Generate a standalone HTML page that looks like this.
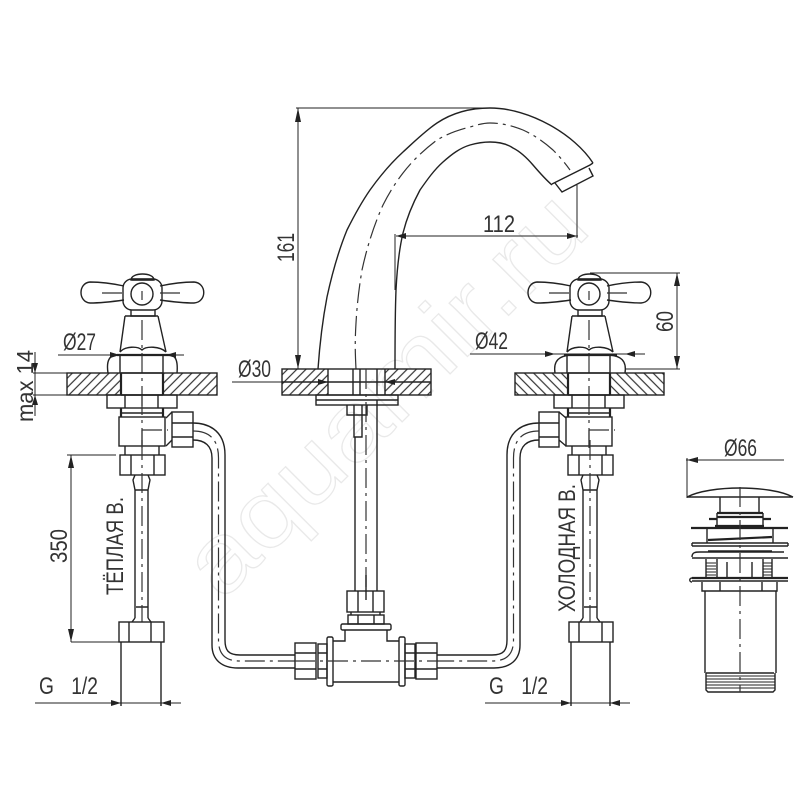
<!DOCTYPE html>
<html><head><meta charset="utf-8"><style>
html,body{margin:0;padding:0;background:#fff;width:800px;height:800px;overflow:hidden}
svg{display:block}
text{font-family:"Liberation Sans","DejaVu Sans",sans-serif;fill:#333}
.l{fill:none;stroke:#222;stroke-width:1.4}
.t{fill:none;stroke:#222;stroke-width:2.2}
.c{fill:none;stroke:#333;stroke-width:1.2;stroke-dasharray:20 5 3 5}
.d{fill:none;stroke:#222;stroke-width:1}
.a{fill:#222;stroke:none}
</style></head><body>
<svg width="800" height="800" viewBox="0 0 800 800" xmlns="http://www.w3.org/2000/svg">
<defs>
<pattern id="h1" width="6.500" height="6.500" patternUnits="userSpaceOnUse" patternTransform="rotate(45)"><rect width="6.500" height="6.500" fill="#fff"/><line x1="3" y1="0" x2="3" y2="6.500" stroke="#333" stroke-width="1.200"/></pattern>
<pattern id="h2" width="6.500" height="6.500" patternUnits="userSpaceOnUse" patternTransform="rotate(-45)"><rect width="6.500" height="6.500" fill="#fff"/><line x1="3" y1="0" x2="3" y2="6.500" stroke="#333" stroke-width="1.200"/></pattern>
<g id="head">
<path class="l" d="M124 286 C110 283 98 282 90 282 C78 283 78 302 90 303 C98 303 110 302 124 300"/>
<path class="l" d="M160 286 C174 283 186 282 194 282 C207 283 207 302 194 303 C186 303 174 302 160 300"/>
<rect class="l" x="123" y="279" width="39" height="31" rx="9"/>
<circle class="l" cx="142" cy="294" r="11"/>
<path class="l" d="M131 280 C131 272 154 272 154 280 Z"/>
<path class="t" d="M132 279.500 H153"/>
<path class="l" d="M131 310 V316 H155 V310"/>
<path class="l" d="M125 316 L120 352 M158 316 L166 352 M125 316 H158"/>
<path class="l" d="M120 352 C125 346 138 346 142 350 C146 346 160 346 166 352"/>
<path class="t" d="M117 355 H170"/>
<path class="c" d="M102 293 H124 M160 293 H184 M142 291 V300 M142 320 V410"/>
</g>
<g id="body">
<path class="l" d="M120 373 V355 M163 373 V355"/>
<path class="t" d="M121 373 V395 M163 373 V395"/>
<path class="l" d="M121 373 H163 M121 395 H163"/>
<rect class="l" x="107" y="395" width="70" height="13"/>
<path class="l" d="M125 395 V408 M158 395 V408"/>
<path class="t" d="M121 408 V417 M163 408 V417"/>
<path class="l" d="M121 413 H163"/>
<rect class="l" x="119" y="417" width="46" height="29"/>
<path class="l" d="M125 446 V455 M159 446 V455"/>
<path class="c" d="M142 395 V450"/>
<path class="c" d="M142 430 H168 M142 430 V446"/>
</g>
</defs>

<!-- watermark -->
<text transform="translate(222 602) rotate(-45)" font-size="96" textLength="525" lengthAdjust="spacingAndGlyphs" style="fill:#fff;stroke:#e9e9e9;stroke-width:1.200">aquamir.ru</text>

<!-- spout -->
<path class="l" d="M318 369 C320 340 323 318 327 297 C332 274 338 252 347 230 C354 216 361 203 370 190 C380 176 391 163 403 152 C414 142 425 131 437 123 C452 113 470 108 490 108 C530 108 575 135 593 163"/>
<path class="l" d="M395 369 C395 340 395 315 396 290 C397 270 399 250 403 233 C407 217 413 203 420 190 C427 180 434 170 443 162 C452 154 460 148 470 145 C477 143 483 142 490 142 C499 142 507 144 513 148 C521 152 527 158 533 165 C539 172 545 179 552 185"/>
<path class="l" d="M552 184 L590 165 L593 163"/>
<path class="l" d="M555 183 L562 192 L593 176 L589 168"/>
<path class="c" d="M356 369 C355 350 355 340 356 323 C357 305 359 288 362 270 C367 247 374 225 383 205 C389 193 396 182 403 173 C413 160 425 149 437 140 C447 134 458 130 470 127 C477 125 483 123 490 123 C502 123 513 126 523 130 C534 135 544 142 553 150 C560 157 565 163 570 170"/>

<!-- centre plate -->
<rect x="282" y="369" width="46" height="26" fill="url(#h1)"/>
<rect x="385" y="369" width="46" height="26" fill="url(#h1)"/>
<rect class="l" x="282" y="369" width="149" height="26"/>
<path class="l" d="M328 369 V395 M385 369 V395 M353 369 V395 M360 369 V395 M377 369 V395 M282 382 H431"/>
<rect class="l" x="316" y="395" width="82" height="10"/>
<path class="l" d="M316 400 H398"/>
<path class="l" d="M347 405 V415 H367 V405 M354 405 V415 M362 405 V415 M354 415 V437 H362 V415"/>
<path class="l" d="M355 437 V591 M377 400 V591"/>
<path class="c" d="M366 369 V590"/>

<!-- valves -->
<use href="#head"/>
<use href="#head" transform="translate(447 0)"/>
<rect x="67" y="373" width="54" height="22" fill="url(#h1)"/>
<rect x="163" y="373" width="54" height="22" fill="url(#h1)"/>
<rect class="l" x="67" y="373" width="150" height="22"/>
<rect x="515" y="373" width="53" height="22" fill="url(#h2)"/>
<rect x="611" y="373" width="53" height="22" fill="url(#h2)"/>
<rect class="l" x="515" y="373" width="149" height="22"/>
<path class="l" d="M108 373 C106 360 110 355 117 355 M170 355 C176 355 178 362 177 373"/>
<path class="l" d="M555 373 C553 360 560 356 570 355 H610 C620 356 627 360 625 373"/>
<use href="#body"/>
<use href="#body" transform="translate(447 0)"/>

<!-- left connector -->
<path class="l" d="M166 418 L172 412 M166 446 L172 440"/>
<rect class="l" x="172" y="412" width="21" height="35"/>
<path class="l" d="M172 423 H193 M172 437 H193"/>
<!-- right connector -->
<path class="l" d="M566 418 L559 412 M566 446 L559 440"/>
<rect class="l" x="539" y="412" width="20" height="35"/>
<path class="l" d="M539 423 H559 M539 437 H559"/>

<!-- pipes -->
<path class="l" d="M193 423 C205 423 225 428 225 455 V640 C225 650 228 655 240 655 H295"/>
<path class="l" d="M193 440 C205 440 212 446 212 458 V645 C212 660 222 668 238 668 H295"/>
<path class="c" d="M193 431 C210 431 218.500 440 218.500 458 V640 C218.500 655 226 661 240 661 H295"/>
<path class="l" d="M539 423 C527 423 507 428 507 455 V640 C507 650 504 655 492 655 H437"/>
<path class="l" d="M539 440 C527 440 520 446 520 458 V645 C520 660 510 668 494 668 H437"/>
<path class="c" d="M539 431 C522 431 513.500 440 513.500 458 V640 C513.500 655 506 661 492 661 H437"/>

<!-- lower left -->
<rect class="l" x="120" y="455" width="45" height="20"/>
<path class="l" d="M131 455 V475 M154 455 V475"/>
<path class="l" d="M135 490 V618 M148 490 V618 M135 490 L133 480 L135 475 M148 490 L150 480 L148 475 M135 490 H148"/>
<path class="l" d="M135 618 L132 622 M148 618 L151 622 M136 607 H148"/>
<path class="c" d="M142 440 V622"/>
<rect class="l" x="119" y="622" width="45" height="20"/>
<path class="l" d="M129 622 V642 M151 622 V642"/>
<path class="l" d="M121 642 V706 M161 642 V706"/>

<!-- lower right -->
<rect class="l" x="568" y="455" width="45" height="20"/>
<path class="l" d="M579 455 V475 M602 455 V475"/>
<path class="l" d="M583 490 V618 M597 490 V618 M583 490 L581 480 L583 475 M597 490 L599 480 L597 475 M583 490 H597"/>
<path class="l" d="M583 618 L580 622 M597 618 L600 622 M584 607 H597"/>
<path class="c" d="M590 440 V622"/>
<rect class="l" x="569" y="622" width="44" height="20"/>
<path class="l" d="M579 622 V642 M602 622 V642"/>
<path class="l" d="M571 642 V706 M610 642 V706"/>

<!-- tee -->
<rect class="l" x="347" y="591" width="37" height="21"/>
<path class="l" d="M358 591 V612 M373 591 V612"/>
<path class="l" d="M351 612 V615 M380 612 V615"/>
<rect class="l" x="348" y="615" width="36" height="9"/>
<path class="l" d="M358 615 V624 M374 615 V624"/>
<rect class="l" x="341" y="624" width="50" height="6" rx="1.500"/>
<path class="l" d="M345 630 V641 H333 M387 630 V641 H399"/>
<path class="l" d="M333 682 H399"/>
<rect class="l" x="327" y="637" width="6" height="49" rx="1.500"/>
<rect class="l" x="399" y="637" width="6" height="49" rx="1.500"/>
<rect class="l" x="295" y="643" width="21" height="36"/>
<path class="l" d="M295 653 H316 M295 669 H316"/>
<rect class="l" x="318" y="644" width="9" height="34"/>
<path class="l" d="M318 653 H327 M318 669 H327"/>
<rect class="l" x="405" y="644" width="10" height="34"/>
<path class="l" d="M405 653 H415 M405 669 H415"/>
<rect class="l" x="416" y="643" width="21" height="36"/>
<path class="l" d="M416 653 H437 M416 669 H437"/>
<path class="c" d="M295 661 H437"/>
<path class="l" d="M366 575 V600"/>

<!-- drain -->
<path class="l" d="M687 497 C710 485 770 485 793 497 M687 497 H793"/>
<path class="l" d="M720 497 V512 M759 497 V512"/>
<path class="t" d="M717 513 H763 M715 526 H764"/>
<path class="l" d="M717 513 V526 M763 513 V526"/>
<path class="t" d="M709 519 H717 M763 519 H771 M717 517 H763"/>
<path class="t" d="M691 528 H788"/>
<path class="l" d="M707 528 V543 M773 528 V543"/>
<path class="t" d="M708 540 L772 537"/>
<path class="l" d="M692 543 H788 M692 546 H788 M692 543 V546 M788 543 V546 M708 551 H772"/>
<path class="l" d="M692 557 C692 552 696 552 700 552 H784 M692 558 H788"/>
<path class="l" d="M706 559 V577 M772 559 V577 M717 559 V577 M763 559 V577 M727 562 V577 M752 562 V577"/>
<path class="d" d="M706 563 H716 M706 566 H716 M706 569 H716 M706 572 H716 M706 575 H716 M763 563 H772 M763 566 H772 M763 569 H772 M763 572 H772 M763 575 H772"/>
<path class="t" d="M692 578 H788"/>
<path class="l" d="M692 581 H788 M692 578 C689 578 689 582 692 582"/>
<path class="l" d="M702 582 V591 H777 V582 M720 582 V591 M762 582 V591"/>
<path class="l" d="M705 591 V673 M776 591 V673"/>
<path class="l" d="M706 673 H774 M706 673 V690 L708 692 H773 L775 690 V673"/>
<path class="d" d="M706 676 H775 M706 679 H775 M706 682 H775 M706 685 H775 M706 688 H775"/>
<path class="c" d="M740 487 V692"/>

<!-- dimensions -->
<path class="d" d="M296 108 H483 M298 108 V369"/>
<polygon class="a" points="298,108 295,122 301,122"/><polygon class="a" points="298,369 295,355 301,355"/>
<path class="d" d="M396 236 H578 M577 185 V238 M395 234 V290"/>
<polygon class="a" points="396,236 406,233 406,239"/><polygon class="a" points="577,236 567,233 567,239"/>
<path class="d" d="M58 355 H184"/>
<polygon class="a" points="120,355 110,352 110,358"/><polygon class="a" points="166,355 176,352 176,358"/>
<path class="d" d="M470 354 H645"/>
<polygon class="a" points="555,354 545,351 545,357"/><polygon class="a" points="625,354 635,351 635,357"/>
<path class="d" d="M232 382 H330 M384 382 H395"/>
<polygon class="a" points="328,382 318,379 318,385"/><polygon class="a" points="385,382 395,379 395,385"/>
<path class="d" d="M33 373 H67 M33 395 H67 M35 352 V416"/>
<polygon class="a" points="35,373 32,363 38,363"/><polygon class="a" points="35,395 32,405 38,405"/>
<path class="d" d="M67 455 H116 M71 642 H119 M71 455 V642"/>
<polygon class="a" points="71,455 68,468 74,468"/><polygon class="a" points="71,642 68,629 74,629"/>
<path class="d" d="M35 703 H181"/>
<polygon class="a" points="121,703 111,700 111,706"/><polygon class="a" points="161,703 171,700 171,706"/>
<path class="d" d="M485 703 H630"/>
<polygon class="a" points="571,703 561,700 561,706"/><polygon class="a" points="610,703 620,700 620,706"/>
<path class="d" d="M590 273 H680 M625 369 H680 M677 273 V369"/>
<polygon class="a" points="677,273 674,286 680,286"/><polygon class="a" points="677,369 674,356 680,356"/>
<path class="d" d="M686 460 H784 M687 458 V498"/>
<polygon class="a" points="687,460 698,457 698,463"/>

<!-- labels -->
<text x="63" y="350" font-size="24" textLength="33" lengthAdjust="spacingAndGlyphs">Ø27</text>
<text x="475" y="349" font-size="24" textLength="33" lengthAdjust="spacingAndGlyphs">Ø42</text>
<text x="238" y="377" font-size="24" textLength="33" lengthAdjust="spacingAndGlyphs">Ø30</text>
<text x="724" y="456" font-size="24" textLength="33" lengthAdjust="spacingAndGlyphs">Ø66</text>
<text x="483" y="232" font-size="24" textLength="32" lengthAdjust="spacingAndGlyphs">112</text>
<text transform="translate(294 262) rotate(-90)" font-size="24" textLength="29" lengthAdjust="spacingAndGlyphs">161</text>
<text transform="translate(673 332) rotate(-90)" font-size="24" textLength="21" lengthAdjust="spacingAndGlyphs">60</text>
<text transform="translate(67 563) rotate(-90)" font-size="24" textLength="34" lengthAdjust="spacingAndGlyphs">350</text>
<text transform="translate(33 422) rotate(-90)" font-size="23" textLength="72" lengthAdjust="spacingAndGlyphs">max 14</text>
<text transform="translate(123 595) rotate(-90)" font-size="24" textLength="98" lengthAdjust="spacingAndGlyphs">ТЁПЛАЯ В.</text>
<text transform="translate(575 612) rotate(-90)" font-size="24" textLength="128" lengthAdjust="spacingAndGlyphs">ХОЛОДНАЯ В.</text>
<text transform="translate(39 694) scale(.8 1)" font-size="24" word-spacing="15">G 1/2</text>
<text transform="translate(489 694) scale(.8 1)" font-size="24" word-spacing="15">G 1/2</text>
</svg>
</body></html>
